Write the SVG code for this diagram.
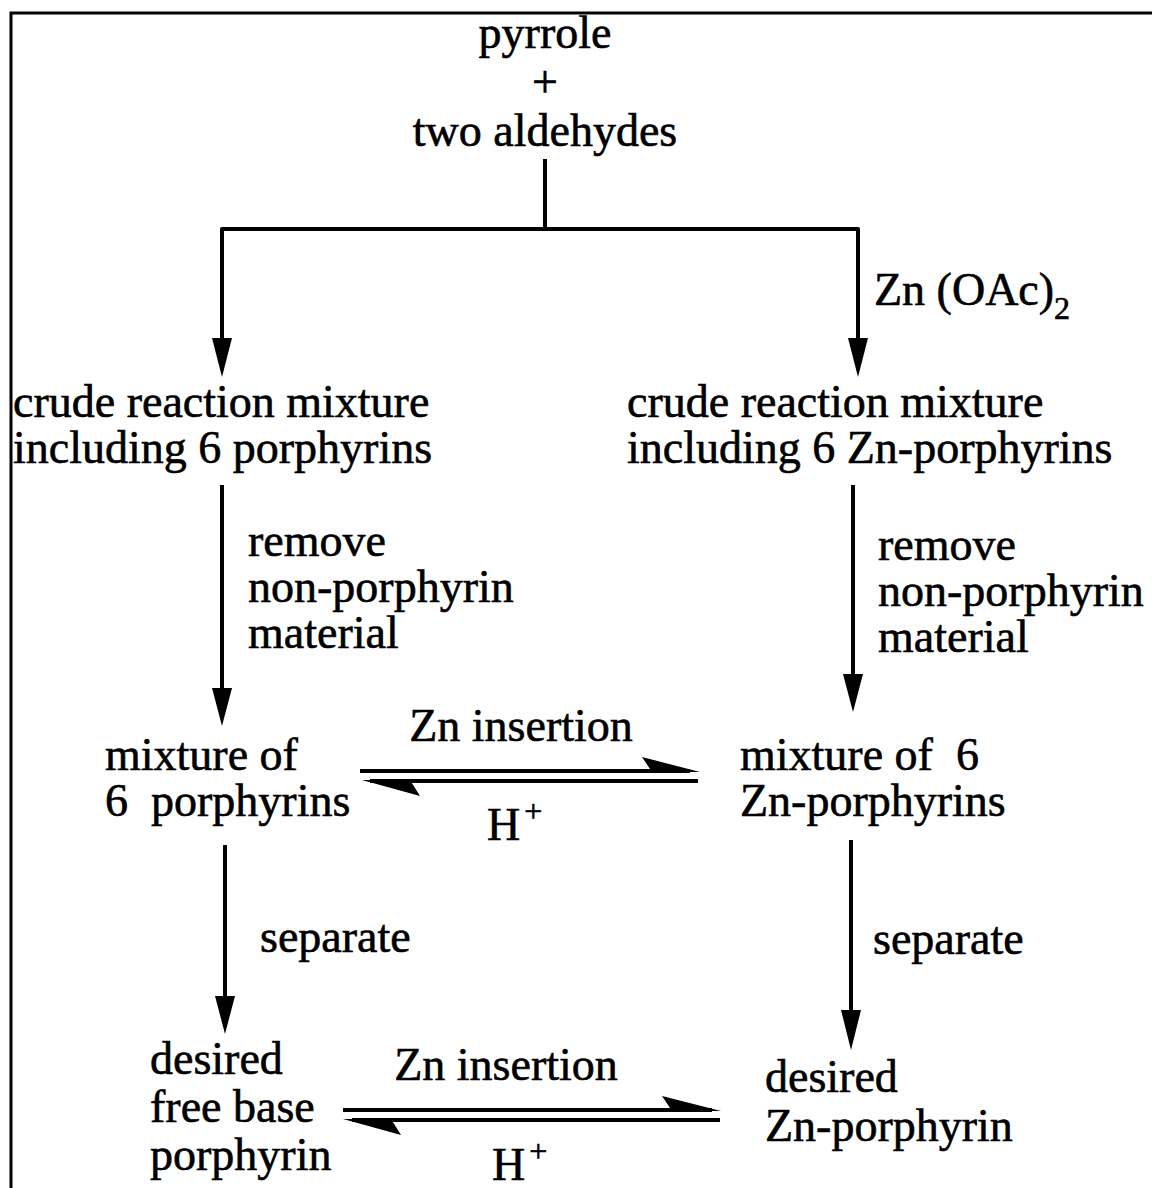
<svg xmlns="http://www.w3.org/2000/svg" width="1152" height="1188" viewBox="0 0 1152 1188">
<style>
.t{font-family:"Liberation Serif","Times New Roman",serif;font-size:46px;fill:#000;stroke:#000;stroke-width:0.6}
.c{text-anchor:middle}
.ln{stroke:#000;stroke-width:4;fill:none;stroke-linejoin:round}
.fr{stroke:#000;stroke-width:3;fill:none}
.hd{fill:#000}
</style>
<rect width="1152" height="1188" fill="#fff"/>
<g id="frame">
<path class="fr" d="M11,1188 V13 H1152"/>
</g>
<g id="connectors">
<path class="ln" d="M545,159 V229"/>
<path class="ln" d="M222,340 V229 H858 V340"/>
<polygon class="hd" points="212,338 232,338 222,377"/>
<polygon class="hd" points="848,338 868,338 858,377"/>
<line class="ln" x1="222" y1="485" x2="222" y2="690"/>
<polygon class="hd" points="212,688 232,688 222,726"/>
<line class="ln" x1="853" y1="485" x2="853" y2="676"/>
<polygon class="hd" points="843,674 863,674 853,712"/>
<line class="ln" x1="225" y1="845" x2="225" y2="998"/>
<polygon class="hd" points="215,996 235,996 225,1034"/>
<line class="ln" x1="851" y1="840" x2="851" y2="1012"/>
<polygon class="hd" points="841,1010 861,1010 851,1050"/>
<g id="eq1">
<line class="ln" x1="360" y1="771" x2="690" y2="771"/>
<polygon class="hd" points="700,772 642,757 652,772"/>
<line class="ln" x1="370" y1="781" x2="698" y2="781"/>
<polygon class="hd" points="362,780 420,796 410,780"/>
</g>
<g id="eq2">
<line class="ln" x1="343" y1="1110" x2="712" y2="1110"/>
<polygon class="hd" points="721,1111 662,1096 672,1111"/>
<line class="ln" x1="352" y1="1120" x2="720" y2="1120"/>
<polygon class="hd" points="343,1119 401,1135 391,1119"/>
</g>
</g>
<g id="n-start">
<text class="t c" x="545" y="48">pyrrole</text>
<text class="t c" x="545" y="97" font-size="30">+</text>
<text class="t c" x="545" y="146">two aldehydes</text>
</g>
<g id="lbl-zn-oac">
<text class="t" x="874" y="305">Zn (OAc)<tspan font-size="32" dy="14">2</tspan></text>
</g>
<g id="n-crude-left">
<text class="t" x="13" y="417">crude reaction mixture</text>
<text class="t" x="13" y="463">including 6 porphyrins</text>
</g>
<g id="n-crude-right">
<text class="t" x="627" y="417">crude reaction mixture</text>
<text class="t" x="627" y="463">including 6 Zn-porphyrins</text>
</g>
<g id="lbl-remove-left">
<text class="t" x="248" y="556">remove</text>
<text class="t" x="248" y="602">non-porphyrin</text>
<text class="t" x="248" y="648">material</text>
</g>
<g id="lbl-remove-right">
<text class="t" x="878" y="560">remove</text>
<text class="t" x="878" y="606">non-porphyrin</text>
<text class="t" x="878" y="652">material</text>
</g>
<g id="n-mix-left">
<text class="t" x="105" y="770">mixture of</text>
<text class="t" x="105" y="816" xml:space="preserve">6  porphyrins</text>
</g>
<g id="n-mix-right">
<text class="t" x="740" y="770" xml:space="preserve">mixture of  6</text>
<text class="t" x="740" y="816">Zn-porphyrins</text>
</g>
<g id="lbl-eq1">
<text class="t c" x="521" y="741">Zn insertion</text>
<text class="t" x="487" y="840">H<tspan font-size="32" dy="-18" dx="4">+</tspan></text>
</g>
<g id="lbl-separate">
<text class="t" x="260" y="952">separate</text>
<text class="t" x="873" y="954">separate</text>
</g>
<g id="n-desired-left">
<text class="t" x="150" y="1074">desired</text>
<text class="t" x="150" y="1122">free base</text>
<text class="t" x="150" y="1170">porphyrin</text>
</g>
<g id="n-desired-right">
<text class="t" x="765" y="1092">desired</text>
<text class="t" x="765" y="1141">Zn-porphyrin</text>
</g>
<g id="lbl-eq2">
<text class="t c" x="506" y="1080">Zn insertion</text>
<text class="t" x="492" y="1180">H<tspan font-size="32" dy="-18" dx="4">+</tspan></text>
</g>
</svg>
